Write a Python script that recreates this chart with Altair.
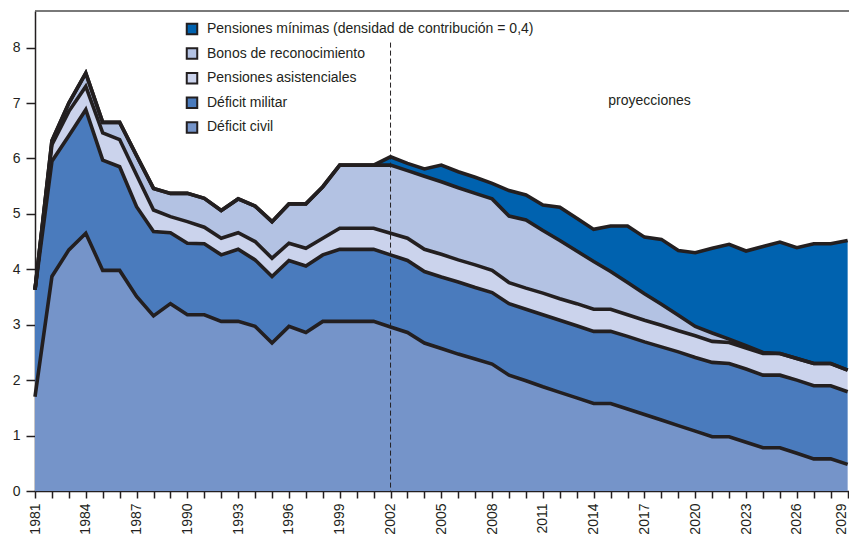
import altair as alt
import pandas as pd

years = list(range(1981, 2030))

civil = [1.70, 3.87, 4.35, 4.65, 3.98, 3.98, 3.51, 3.16, 3.38, 3.18,
         3.18, 3.06, 3.06, 2.97, 2.67, 2.97, 2.86, 3.06, 3.06, 3.06,
         3.06, 2.96, 2.86, 2.67, 2.57, 2.47, 2.38, 2.29, 2.09, 1.99,
         1.88, 1.78, 1.68, 1.58, 1.58, 1.48, 1.38, 1.28, 1.18, 1.08,
         0.98, 0.98, 0.88, 0.78, 0.78, 0.68, 0.58, 0.58, 0.48]

militar = [1.93, 2.08, 2.06, 2.23, 1.99, 1.87, 1.62, 1.52, 1.28, 1.29,
           1.28, 1.20, 1.30, 1.20, 1.20, 1.19, 1.20, 1.20, 1.30, 1.30,
           1.30, 1.30, 1.30, 1.29, 1.29, 1.30, 1.29, 1.29, 1.29, 1.29,
           1.30, 1.30, 1.30, 1.30, 1.30, 1.31, 1.31, 1.32, 1.33, 1.33,
           1.34, 1.32, 1.32, 1.31, 1.31, 1.32, 1.32, 1.32, 1.31]

asistenciales = [0.00, 0.30, 0.44, 0.42, 0.49, 0.49, 0.57, 0.39, 0.29, 0.39,
                 0.30, 0.30, 0.30, 0.33, 0.33, 0.31, 0.32, 0.30, 0.38, 0.38,
                 0.38, 0.39, 0.40, 0.40, 0.41, 0.40, 0.41, 0.40, 0.38, 0.38,
                 0.39, 0.39, 0.40, 0.40, 0.40, 0.39, 0.39, 0.39, 0.38, 0.39,
                 0.38, 0.38, 0.38, 0.39, 0.39, 0.39, 0.40, 0.40, 0.39]

bonos = [0.00, 0.07, 0.15, 0.24, 0.19, 0.31, 0.35, 0.39, 0.42, 0.51,
         0.52, 0.50, 0.61, 0.64, 0.66, 0.71, 0.80, 0.93, 1.14, 1.14,
         1.14, 1.23, 1.22, 1.32, 1.31, 1.30, 1.29, 1.29, 1.20, 1.23,
         1.13, 1.05, 0.95, 0.86, 0.68, 0.58, 0.48, 0.38, 0.28, 0.17,
         0.15, 0.06, 0.04, 0.02, 0.00, 0.00, 0.00, 0.00, 0.00]

minimas = [0.00, 0.00, 0.00, 0.00, 0.00, 0.00, 0.00, 0.00, 0.00, 0.00,
           0.00, 0.00, 0.00, 0.00, 0.00, 0.00, 0.00, 0.00, 0.00, 0.00,
           0.00, 0.15, 0.13, 0.13, 0.30, 0.29, 0.29, 0.28, 0.46, 0.45,
           0.46, 0.60, 0.59, 0.58, 0.82, 1.02, 1.02, 1.17, 1.17, 1.33,
           1.53, 1.71, 1.71, 1.91, 2.01, 2.00, 2.16, 2.16, 2.34]

series_names = [
    "Déficit civil",
    "Déficit militar",
    "Pensiones asistenciales",
    "Bonos de reconocimiento",
    "Pensiones mínimas (densidad de contribución = 0,4)",
]
series_colors = ["#7594C9", "#4A7BBD", "#CBD3EC", "#B3C2E3", "#0062AF"]

x_tick_years = years
y_ticks = [0, 1, 2, 3, 4, 5, 6, 7, 8]
x_domain = [1981, 2029.08]
y_domain = [0, 8.66]
proj_year = 2002
proj_rule_top = 8.09
proj_label = "proyecciones"
proj_label_x = 2017.3
proj_label_y = 7.04

FONT = "Liberation Sans"
INK = "#231F20"

rows = []
for i, (name, vals) in enumerate(zip(series_names, [civil, militar, asistenciales, bonos, minimas])):
    for yr, v in zip(years, vals):
        rows.append({"year": yr, "serie": name, "idx": i, "value": v})
df = pd.DataFrame(rows)

x_scale = alt.Scale(domain=x_domain, nice=False, zero=False)
y_scale = alt.Scale(domain=y_domain, nice=False)

x_axis = alt.Axis(
    values=x_tick_years, format="d",
    labelExpr="(datum.value - 1981) % 3 == 0 ? datum.label : ''",
    labelAngle=270, labelFontSize=14, labelFont=FONT, labelColor=INK,
    labelPadding=5, labelOverlap=False, labelFlush=False, labelBound=False,
    labelOffset={"condition": {"test": "datum.value >= 2029", "value": -6}, "value": 0},
    tickSize=7, tickColor=INK, tickWidth=1.5,
    domainColor=INK, domainWidth=1.5, grid=False, title=None,
)
y_axis = alt.Axis(
    values=y_ticks, labelFontSize=14, labelFont=FONT, labelColor=INK,
    labelPadding=6, tickSize=9, tickColor=INK, tickWidth=1.5,
    domainColor=INK, domainWidth=1.5, grid=False, title=None,
)

base = alt.Chart(df).transform_stack(
    stack="value", groupby=["year"], as_=["y0", "y1"],
    sort=[alt.SortField("idx", order="ascending")],
)

areas = base.mark_area(opacity=1, strokeWidth=0).encode(
    x=alt.X("year:Q", scale=x_scale, axis=x_axis),
    y=alt.Y("y0:Q", scale=y_scale, axis=y_axis),
    y2="y1:Q",
    color=alt.Color(
        "serie:N",
        scale=alt.Scale(domain=series_names[::-1], range=series_colors[::-1]),
        legend=alt.Legend(
            orient="none", legendX=150, legendY=11, title=None,
            symbolType="square", symbolSize=110, symbolStrokeColor=INK,
            symbolStrokeWidth=2, symbolOpacity=1,
            labelFontSize=14, labelFont=FONT, labelColor=INK,
            rowPadding=4.6, labelOffset=8, padding=0, labelLimit=500,
        ),
    ),
)

lines = base.mark_line(color=INK, strokeWidth=3.6, strokeJoin="miter").encode(
    x=alt.X("year:Q", scale=x_scale, axis=x_axis),
    y=alt.Y("y1:Q", scale=y_scale, axis=y_axis),
    detail="serie:N",
)

proj_df = pd.DataFrame({"year": [proj_year], "top": [proj_rule_top], "bottom": [0]})
proj_rule = alt.Chart(proj_df).mark_rule(color=INK, strokeWidth=1, strokeDash=[5, 3]).encode(
    x=alt.X("year:Q", scale=x_scale, axis=x_axis),
    y=alt.Y("top:Q", scale=y_scale, axis=y_axis),
    y2="bottom:Q",
)

border_df = pd.DataFrame({"top": [y_domain[1]]})
border = alt.Chart(border_df).mark_rule(color="#4d4d4d", strokeWidth=1.5).encode(
    y=alt.Y("top:Q", scale=y_scale, axis=y_axis),
)

label_df = pd.DataFrame({"x": [proj_label_x], "y": [proj_label_y], "t": [proj_label]})
label = alt.Chart(label_df).mark_text(
    font=FONT, fontSize=14, color=INK, align="center", baseline="middle"
).encode(
    x=alt.X("x:Q", scale=x_scale, axis=x_axis),
    y=alt.Y("y:Q", scale=y_scale, axis=y_axis),
    text="t:N",
)

chart = alt.layer(areas, lines, proj_rule, border, label).properties(
    width=814, height=480,
    autosize=alt.AutoSizeParams(type="none"),
    padding={"left": 27, "top": 3, "right": 0, "bottom": 45},
).configure_view(stroke=None)

chart.save("out.html", embed_options={"renderer": "svg", "actions": False})
